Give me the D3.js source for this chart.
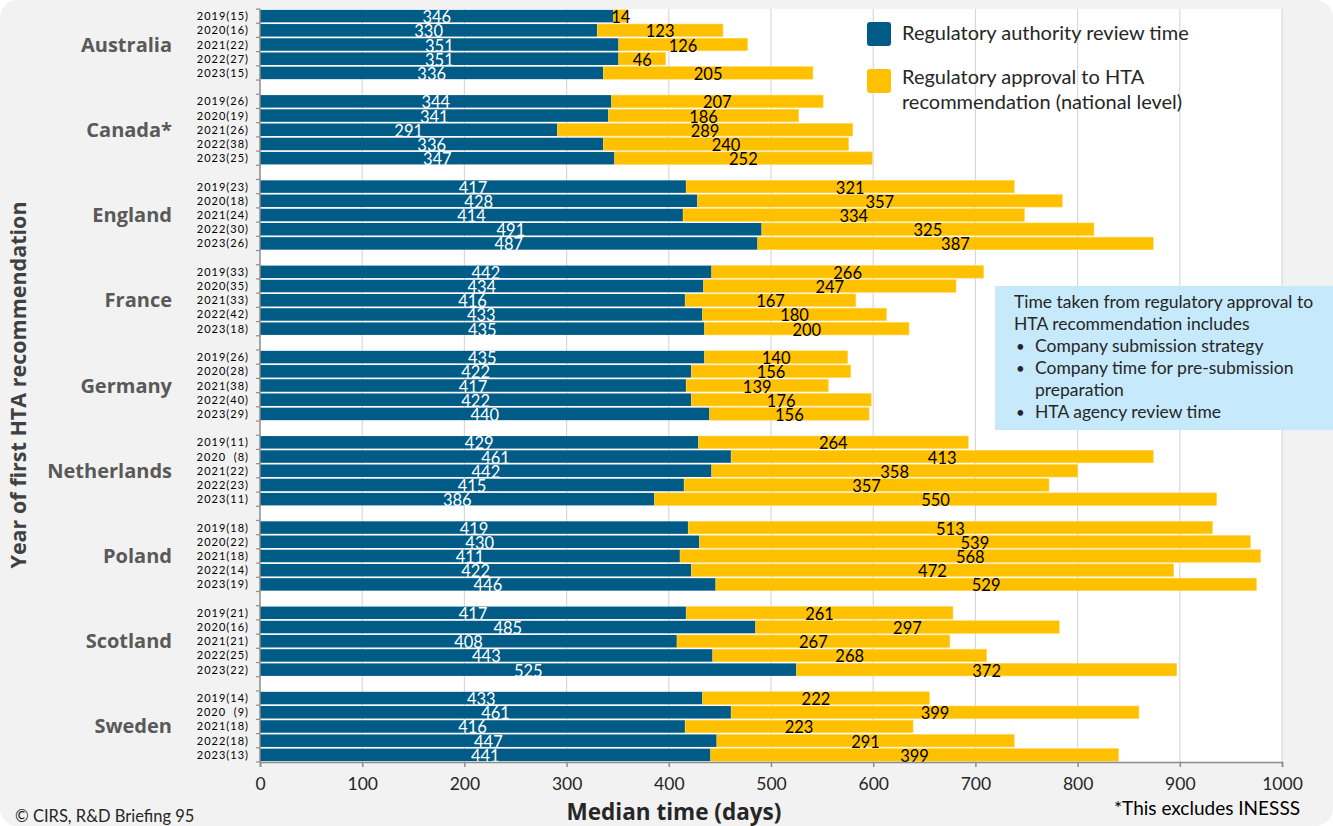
<!DOCTYPE html>
<html>
<head>
<meta charset="utf-8">
<script src="https://cdn.jsdelivr.net/npm/d3@7"></script>
<style>
  html, body { margin: 0; padding: 0; background: #ffffff; }
  svg { display: block; font-family: Lato, "Open Sans", sans-serif; }
</style>
</head>
<body>
<svg id="chart" width="1333" height="826"></svg>
<script>
// ---------- DATA ----------
const countries = ["Australia", "Canada*", "England", "France", "Germany", "Netherlands", "Poland", "Scotland", "Sweden"];
const yearLabels = [
  ["2019(15)", "2020(16)", "2021(22)", "2022(27)", "2023(15)"],
  ["2019(26)", "2020(19)", "2021(26)", "2022(38)", "2023(25)"],
  ["2019(23)", "2020(18)", "2021(24)", "2022(30)", "2023(26)"],
  ["2019(33)", "2020(35)", "2021(33)", "2022(42)", "2023(18)"],
  ["2019(26)", "2020(28)", "2021(38)", "2022(40)", "2023(29)"],
  ["2019(11)", "2020  (8)", "2021(22)", "2022(23)", "2023(11)"],
  ["2019(18)", "2020(22)", "2021(18)", "2022(14)", "2023(19)"],
  ["2019(21)", "2020(16)", "2021(21)", "2022(25)", "2023(22)"],
  ["2019(14)", "2020  (9)", "2021(18)", "2022(18)", "2023(13)"]
];
const regulatoryReview = [
  [346, 330, 351, 351, 336],
  [344, 341, 291, 336, 347],
  [417, 428, 414, 491, 487],
  [442, 434, 416, 433, 435],
  [435, 422, 417, 422, 440],
  [429, 461, 442, 415, 386],
  [419, 430, 411, 422, 446],
  [417, 485, 408, 443, 525],
  [433, 461, 416, 447, 441]
];
const approvalToHTA = [
  [14, 123, 126, 46, 205],
  [207, 186, 289, 240, 252],
  [321, 357, 334, 325, 387],
  [266, 247, 167, 180, 200],
  [140, 156, 139, 176, 156],
  [264, 413, 358, 357, 550],
  [513, 539, 568, 472, 529],
  [261, 297, 267, 268, 372],
  [222, 399, 223, 291, 399]
];
const xTicks = [0, 100, 200, 300, 400, 500, 600, 700, 800, 900, 1000];
const seriesNames = ["Regulatory authority review time", "Regulatory approval to HTA", "recommendation (national level)"];
const infoLines = ["Time taken from regulatory approval to", "HTA recommendation includes"];
const infoBullets = [["Company submission strategy"], ["Company time for pre-submission", "preparation"], ["HTA agency review time"]];

(function () {
const BLUE = "#005b86";
const YELLOW = "#ffc000";
const BOLD_FONT = "'Open Sans', Lato, sans-serif";

// ---------- BUILD ROWS ----------
const rows = [];
const slots = [];
countries.forEach((c, ci) => {
  yearLabels[ci].forEach((yl, yi) => {
    const key = c + "|" + yi;
    slots.push(key);
    rows.push({ key, country: c, ci, yi, label: yl, reg: regulatoryReview[ci][yi], hta: approvalToHTA[ci][yi] });
  });
  if (ci < countries.length - 1) slots.push("gap" + ci);
});

const svg = d3.select("#chart");
const W = 1333, H = 826;

// background
svg.append("rect").attr("x", 0).attr("y", 0).attr("width", W).attr("height", H)
  .attr("rx", 18).attr("fill", "#f2f2f2");

const pLeft = 260, pRight = 1282, pTop = 9, pBottom = 762;

const x = d3.scaleLinear().domain([0, 1000]).range([pLeft, pRight]);
const y = d3.scaleBand().domain(slots).range([pTop, pBottom]).paddingInner(0.12).paddingOuter(0.06);

// plot area
svg.append("rect").attr("x", pLeft).attr("y", pTop).attr("width", pRight - pLeft).attr("height", pBottom - pTop).attr("fill", "#ffffff");

// gridlines
svg.append("g").selectAll("line").data(xTicks.slice(1)).join("line")
  .attr("x1", d => x(d)).attr("x2", d => x(d)).attr("y1", pTop).attr("y2", pBottom)
  .attr("stroke", "#d9d9d9").attr("stroke-width", 1.2);

// bars
const barG = svg.append("g");
barG.selectAll("rect.reg").data(rows).join("rect").attr("class", "reg")
  .attr("x", x(0)).attr("y", d => y(d.key)).attr("width", d => x(d.reg) - x(0)).attr("height", y.bandwidth())
  .attr("fill", BLUE);
barG.selectAll("rect.hta").data(rows).join("rect").attr("class", "hta")
  .attr("x", d => x(d.reg)).attr("y", d => y(d.key)).attr("width", d => x(d.reg + d.hta) - x(d.reg)).attr("height", y.bandwidth())
  .attr("fill", YELLOW).attr("stroke", "#ffd54f").attr("stroke-width", 0.6);

// labels
barG.selectAll("text.regl").data(rows).join("text").attr("class", "regl")
  .attr("x", d => x(d.reg / 2)).attr("y", d => y(d.key) + y.bandwidth() / 2 + 7)
  .attr("text-anchor", "middle").attr("fill", "#ffffff").attr("font-size", 16.5)
  .text(d => d.reg);
barG.selectAll("text.htal").data(rows).join("text").attr("class", "htal")
  .attr("x", d => x(d.reg + d.hta / 2)).attr("y", d => y(d.key) + y.bandwidth() / 2 + 7)
  .attr("text-anchor", "middle").attr("fill", "#000000").attr("font-size", 16.5)
  .text(d => d.hta);

// x axis
const xAxis = d3.axisBottom(x).tickValues(xTicks).tickSize(5).tickPadding(11).tickFormat(d3.format("d"));
const xg = svg.append("g").attr("transform", `translate(0,${pBottom})`).call(xAxis);
xg.select(".domain").attr("stroke", "#8c8c8c").attr("stroke-width", 1.5);
xg.selectAll(".tick line").attr("stroke", "#8c8c8c").attr("stroke-width", 1.5);
xg.selectAll(".tick text").attr("font-size", 17.5).attr("fill", "#262626").attr("font-family", "Lato, sans-serif");

// y axis line + minor ticks at slot boundaries
const step = y.step();
const boundaries = d3.range(slots.length + 1).map(i => pTop + y.paddingOuter() * step - step * y.paddingInner() / 2 + i * step);
svg.append("line").attr("x1", pLeft).attr("x2", pLeft).attr("y1", pTop).attr("y2", pBottom)
  .attr("stroke", "#8c8c8c").attr("stroke-width", 1.5);
svg.append("g").selectAll("line").data(boundaries.filter(b => b >= pTop - 1 && b <= pBottom + 1)).join("line")
  .attr("x1", pLeft - 4).attr("x2", pLeft).attr("y1", d => d).attr("y2", d => d)
  .attr("stroke", "#8c8c8c").attr("stroke-width", 1.2);

// year labels
svg.append("g").selectAll("text").data(rows).join("text")
  .attr("x", 249).attr("y", d => y(d.key) + y.bandwidth() / 2 + 4)
  .attr("text-anchor", "end").attr("font-size", 11).attr("letter-spacing", 1).attr("fill", "#000")
  .style("white-space", "pre")
  .text(d => d.label);

// country labels
svg.append("g").selectAll("text").data(countries).join("text")
  .attr("x", 172)
  .attr("y", (c) => y(c + "|2") + y.bandwidth() / 2 + 7)
  .attr("text-anchor", "end").attr("font-size", 20).attr("font-weight", "bold").attr("fill", "#595959")
  .attr("font-family", BOLD_FONT)
  .text(c => c);

// axis titles
svg.append("text").attr("transform", "translate(26,385) rotate(-90)")
  .attr("text-anchor", "middle").attr("font-size", 21.5).attr("font-weight", "bold").attr("fill", "#404040")
  .attr("font-family", BOLD_FONT)
  .text("Year of first HTA recommendation");
svg.append("text").attr("x", 674).attr("y", 820)
  .attr("text-anchor", "middle").attr("font-size", 22.5).attr("font-weight", "bold").attr("fill", "#262626")
  .attr("font-family", BOLD_FONT)
  .text("Median time (days)");

// footer
svg.append("text").attr("x", 15).attr("y", 822).attr("font-size", 16.5).attr("fill", "#262626")
  .text("© CIRS, R&D Briefing 95");
svg.append("text").attr("x", 1300).attr("y", 815).attr("text-anchor", "end").attr("font-size", 19).attr("fill", "#000")
  .text("*This excludes INESSS");

// legend
const lg = svg.append("g");
lg.append("rect").attr("x", 867).attr("y", 22).attr("width", 24).attr("height", 24).attr("rx", 3).attr("fill", BLUE);
lg.append("rect").attr("x", 867).attr("y", 69).attr("width", 24).attr("height", 24).attr("rx", 3).attr("fill", YELLOW);
lg.append("text").attr("x", 902).attr("y", 40).attr("font-size", 20).attr("fill", "#262626").text(seriesNames[0]);
lg.append("text").attr("x", 902).attr("y", 84).attr("font-size", 20).attr("fill", "#262626").text(seriesNames[1]);
lg.append("text").attr("x", 902).attr("y", 109).attr("font-size", 20).attr("fill", "#262626").text(seriesNames[2]);

// info box
const ib = svg.append("g");
ib.append("rect").attr("x", 995).attr("y", 286).attr("width", 338).attr("height", 144).attr("fill", "#c6eafb");
let ly = 308;
infoLines.forEach(t => {
  ib.append("text").attr("x", 1014).attr("y", ly).attr("font-size", 17.5).attr("fill", "#262626").text(t);
  ly += 21.5;
});
ly += 0.5;
infoBullets.forEach(b => {
  b.forEach((t, i) => {
    if (i === 0) ib.append("text").attr("x", 1016).attr("y", ly).attr("font-size", 15).attr("fill", "#262626").text("•");
    ib.append("text").attr("x", 1035).attr("y", ly).attr("font-size", 17.5).attr("fill", "#262626").text(t);
    ly += 22;
  });
});
})();
</script>
</body>
</html>
